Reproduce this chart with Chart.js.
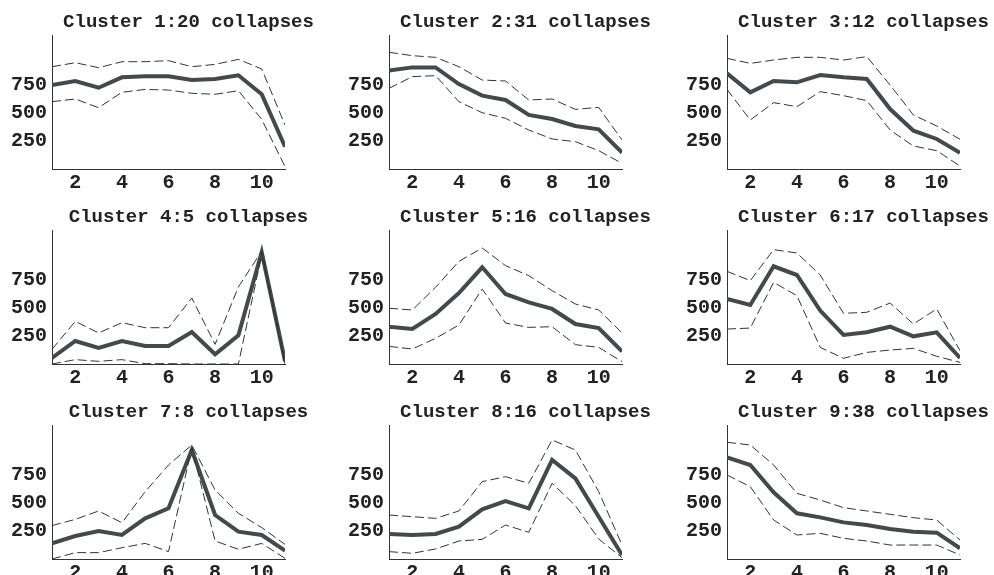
<!DOCTYPE html>
<html>
<head>
<meta charset="utf-8">
<script src="https://cdn.jsdelivr.net/npm/chart.js@4"></script>
<style>
  html, body { margin: 0; padding: 0; background: #fff; overflow: hidden; }
  #wrap { position: relative; width: 994px; height: 575px; }
  .panel { position: absolute; width: 377px; height: 194px; }
</style>
</head>
<body>
<div id="wrap"></div>
<script>
// x positions (steps) and tick values
const steps = [1, 2, 3, 4, 5, 6, 7, 8, 9, 10, 11];
const xTicks = [2, 4, 6, 8, 10];
const yTicks = [250, 500, 750];

const titles = [
  "Cluster 1:20 collapses", "Cluster 2:31 collapses", "Cluster 3:12 collapses",
  "Cluster 4:5 collapses", "Cluster 5:16 collapses", "Cluster 6:17 collapses",
  "Cluster 7:8 collapses", "Cluster 8:16 collapses", "Cluster 9:38 collapses"
];

// mean (thick line)
const mean1 = [752, 788, 728, 821, 830, 830, 797, 806, 839, 669, 200];
const mean2 = [881, 910, 910, 761, 657, 618, 484, 448, 385, 355, 146];
const mean3 = [857, 687, 788, 776, 842, 821, 806, 537, 343, 269, 146];
const mean4 = [54, 206, 143, 206, 161, 161, 287, 87, 257, 1003, 25];
const mean5 = [334, 313, 448, 636, 866, 627, 552, 493, 358, 322, 113];
const mean6 = [582, 528, 875, 797, 478, 260, 284, 334, 248, 284, 54];
const mean7 = [140, 206, 251, 215, 364, 454, 976, 394, 245, 215, 75];
const mean8 = [224, 215, 224, 290, 445, 519, 454, 887, 722, 379, 36];
const mean9 = [910, 842, 597, 409, 373, 328, 304, 269, 245, 236, 96];

// upper bound (dashed)
const upper1 = [916, 952, 907, 961, 961, 970, 916, 937, 982, 896, 394];
const upper2 = [1045, 1015, 1000, 916, 797, 788, 618, 627, 534, 552, 260];
const upper3 = [991, 946, 976, 1000, 1000, 976, 1006, 752, 484, 385, 266];
const upper4 = [131, 382, 278, 370, 325, 325, 591, 176, 690, 1010, 25];
const upper5 = [499, 484, 687, 919, 1039, 881, 791, 657, 537, 484, 278];
const upper6 = [830, 746, 1024, 994, 797, 454, 463, 546, 358, 493, 119];
const upper7 = [299, 355, 430, 325, 603, 842, 1021, 618, 409, 281, 131];
const upper8 = [394, 379, 364, 430, 693, 737, 678, 1066, 976, 603, 125];
const upper9 = [1045, 1021, 842, 588, 528, 460, 430, 400, 370, 349, 170];

// lower bound (dashed)
const lower1 = [603, 627, 549, 687, 713, 707, 678, 669, 701, 445, 21];
const lower2 = [722, 827, 836, 603, 504, 454, 349, 269, 245, 164, 51];
const lower3 = [713, 439, 594, 558, 693, 657, 612, 349, 206, 164, 27];
const lower4 = [0, 39, 24, 39, 3, 3, 0, 0, 0, 980, 0];
const lower5 = [158, 134, 230, 349, 672, 367, 328, 334, 173, 149, 21];
const lower6 = [313, 322, 731, 612, 149, 51, 104, 125, 140, 69, 15];
const lower7 = [0, 57, 57, 101, 140, 66, 997, 161, 87, 140, 6];
const lower8 = [66, 51, 90, 161, 176, 304, 239, 678, 478, 179, 12];
const lower9 = [752, 648, 349, 215, 230, 185, 161, 125, 125, 125, 36];

const means = [mean1, mean2, mean3, mean4, mean5, mean6, mean7, mean8, mean9];
const uppers = [upper1, upper2, upper3, upper4, upper5, upper6, upper7, upper8, upper9];
const lowers = [lower1, lower2, lower3, lower4, lower5, lower6, lower7, lower8, lower9];

// panel placement (canvas left / top)
const colLeft = [0, 337, 675];
const rowTop = [0, 194.7, 390];

const fontFam = "'Liberation Mono', 'DejaVu Sans Mono', monospace";
const wrap = document.getElementById("wrap");

function toPoints(arr) {
  return steps.map((x, i) => ({ x: x, y: arr[i] }));
}

for (let i = 0; i < 9; i++) {
  const div = document.createElement("div");
  div.className = "panel";
  div.style.left = colLeft[i % 3] + "px";
  div.style.top = rowTop[Math.floor(i / 3)] + "px";
  const cv = document.createElement("canvas");
  div.appendChild(cv);
  wrap.appendChild(div);

  new Chart(cv.getContext("2d"), {
    type: "line",
    data: {
      datasets: [
        {
          label: "upper",
          data: toPoints(uppers[i]),
          borderColor: "#333",
          borderWidth: 1,
          borderDash: [9, 4],
          pointRadius: 0,
          fill: false,
        },
        {
          label: "lower",
          data: toPoints(lowers[i]),
          borderColor: "#333",
          borderWidth: 1,
          borderDash: [9, 4],
          pointRadius: 0,
          fill: false,
        },
        {
          label: "mean",
          data: toPoints(means[i]),
          borderColor: "#424b4b",
          borderWidth: 4,
          pointRadius: 0,
          fill: false,
        },
      ],
    },
    options: {
      responsive: true,
      maintainAspectRatio: false,
      animation: false,
      layout: { padding: { top: 11, left: 0, right: 0, bottom: 0 } },
      plugins: {
        legend: { display: false },
        tooltip: { enabled: false },
        title: {
          display: true,
          text: titles[i],
          color: "#222",
          font: { family: fontFam, size: 19, weight: "bold", lineHeight: 1.2 },
          padding: { top: 0, bottom: 1.2 },
        },
      },
      scales: {
        x: {
          type: "linear",
          min: 1,
          max: 11,
          grid: { display: false, drawTicks: false },
          border: { display: true, color: "#333", width: 1 },
          ticks: {
            color: "#222",
            padding: 2,
            maxRotation: 0,
            font: { family: fontFam, size: 20, weight: "bold" },
          },
          afterBuildTicks: (scale) => {
            scale.ticks = xTicks.map((v) => ({ value: v }));
          },
          afterFit: (scale) => {
            scale.height = 25;
          },
        },
        y: {
          type: "linear",
          position: "left",
          min: 0,
          max: 1200,
          grid: { display: false, drawTicks: false },
          border: { display: true, color: "#333", width: 1 },
          ticks: {
            color: "#222",
            padding: 5,
            font: { family: fontFam, size: 20, weight: "bold" },
          },
          afterBuildTicks: (scale) => {
            scale.ticks = yTicks.map((v) => ({ value: v }));
          },
          afterFit: (scale) => {
            scale.width = 52;
          },
        },
        // empty spacer on the right so the title sits where it does in the picture
        yRight: {
          type: "linear",
          position: "right",
          display: true,
          grid: { display: false, drawTicks: false },
          border: { display: false },
          ticks: { display: false },
          afterFit: (scale) => {
            scale.width = 92;
          },
        },
      },
    },
  });
}
</script>
</body>
</html>
